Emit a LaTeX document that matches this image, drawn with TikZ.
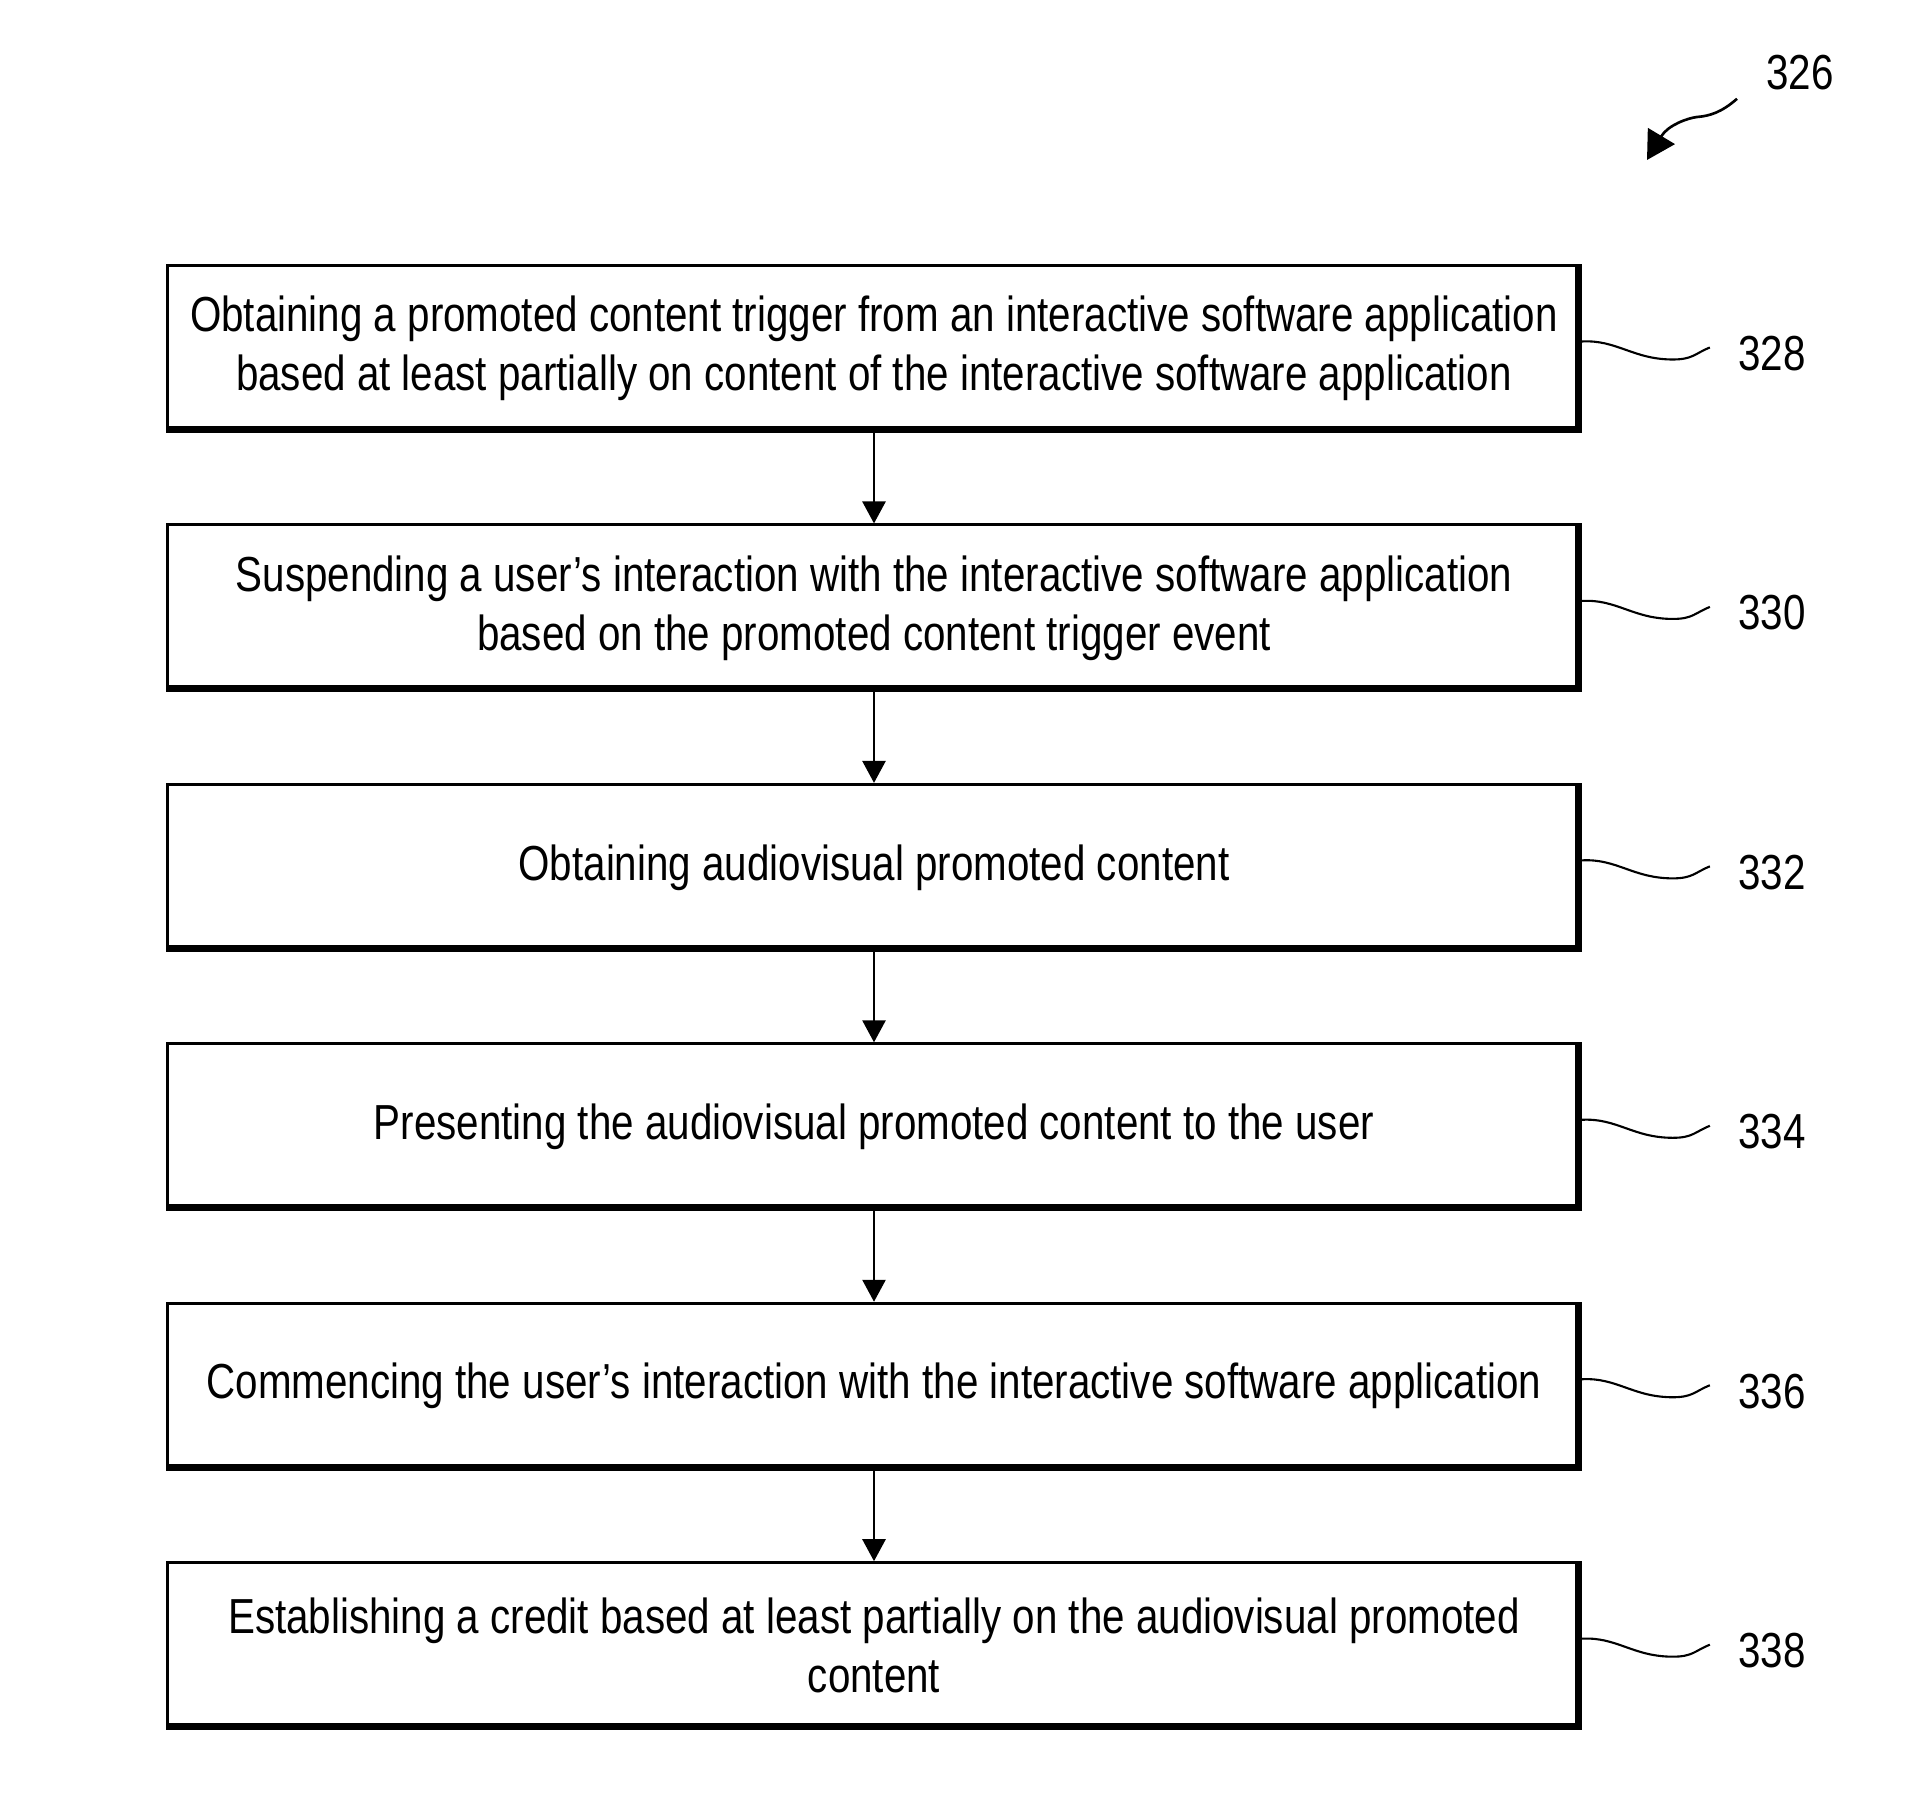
\documentclass[tikz,border=0pt]{standalone}
\usepackage{fontspec}
\setmainfont{Liberation Sans}[FakeStretch=0.82]
\usetikzlibrary{positioning,calc,arrows.meta}

\begin{document}
\begin{tikzpicture}[x=0.02cm, y=-0.02cm, node distance = 1.81cm,
   stage/.style = {draw, line width=1.7pt, minimum width=28.26cm, minimum height=3.32cm,
      inner sep=0pt, align=center, font=\fontsize{28}{33.5}\selectfont},
   num/.style = {inner sep=0pt, font=\fontsize{28}{33.5}\selectfont},
   flow/.style = {-{Triangle[length=0.44cm, width=0.46cm]}, line width=1.5pt},
   lead/.style = {line width=1.2pt}]
   \useasboundingbox (0,0) rectangle (1920,1817);
   \node[stage] (b1) at (874,348.5) {Obtaining a promoted content trigger from an interactive software application\\based at least partially on content of the interactive software application};
   \node[stage, below = of b1] (b2) {Suspending a user’s interaction with the interactive software application\\based on the promoted content trigger event};
   \node[stage, below = of b2] (b3) {Obtaining audiovisual promoted content};
   \node[stage, below = of b3] (b4) {Presenting the audiovisual promoted content to the user};
   \node[stage, below = of b4] (b5) {Commencing the user’s interaction with the interactive software application};
   \node[stage, below = of b5] (b6) {Establishing a credit based at least partially on the audiovisual promoted\\content};
   % heavier right and bottom edges
   \foreach \n in {b1,b2,b3,b4,b5,b6}
      \draw[line width=4pt] ([shift={(-2pt,-1pt)}]\n.north east) -- ([shift={(-2pt,2pt)}]\n.south east) -- ([shift={(1pt,2pt)}]\n.south west);
   \foreach \a/\b in {b1/b2,b2/b3,b3/b4,b4/b5,b5/b6}
      \draw[flow] (\a) -- (\b);
   % reference numerals
   \foreach \n/\num in {b1/328,b2/330,b3/332,b4/334,b5/336,b6/338} {
      \coordinate (s\num) at ($(\n.east)+(0,-7)$);
      \node[num, anchor=west] (l\num) at ($(\n.east)+(156,5)$) {\num};
      \draw[lead] (s\num) .. controls ($(s\num)+(35,-2)$) and ($(s\num)+(51,18)$) .. ($(s\num)+(91,18)$)
         .. controls ($(s\num)+(111,18)$) and ($(s\num)+(113,12)$) .. ($(s\num)+(128,6)$);
   }
   \node[num] (l326) at (1800,73) {326};
   \coordinate (t326) at (1647,160);
   \draw[line width=1.5pt, -{Triangle[length=0.56cm, width=0.62cm]}] ($(l326.south west)+(-29,8)$)
      .. controls (1722,112) and (1710,116) .. (1697,117)
      .. controls (1688,118) and (1668,125) .. (t326);
\end{tikzpicture}
\end{document}
